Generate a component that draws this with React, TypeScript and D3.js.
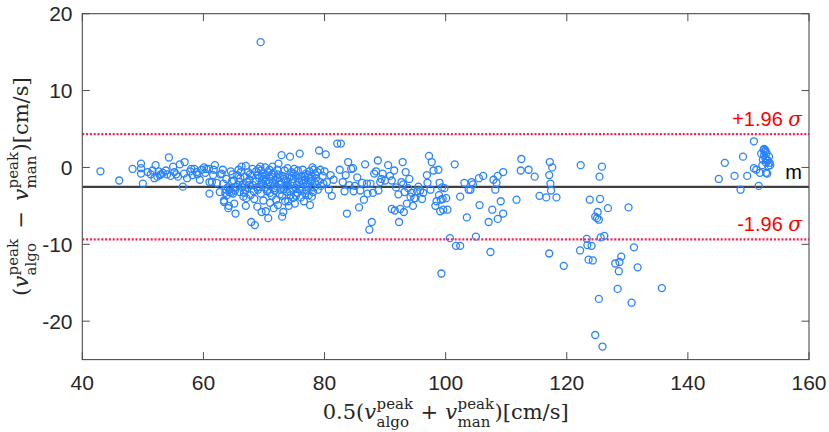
import React from 'react';
import * as d3 from 'd3';

// ---- data ----
const xTicks = [40, 60, 80, 100, 120, 140, 160];
const yTicks = [-20, -10, 0, 10, 20];
const meanDiff = -2.52;
const sdDiff = 3.49;

const outlierPoints: number[][] = [[69.45, 16.3]];

const leftPoints: number[][] = [
  [43.0, -0.5], [46.1, -1.7], [48.3, -0.2], [49.7, 0.5], [49.7, -0.1], [49.7, -0.8], [50.0, -2.1],
  [50.8, -0.6], [51.3, -0.9], [51.6, -0.4], [52.1, 0.3], [52.4, -1.2], [52.8, -1.0], [53.3, -0.7],
  [53.8, -0.4], [54.3, 1.3], [54.6, -1.1], [55.0, 0.1], [55.2, -0.6], [55.5, -0.9], [56.1, 0.4],
  [56.6, -2.5], [56.9, 0.7], [56.8, -0.8], [57.3, -1.4], [58.0, -0.2], [58.5, -0.2], [58.9, -0.6],
  [59.4, -1.6], [59.7, -0.3], [60.1, 0.0], [60.5, -0.2], [60.9, -0.2], [61.0, -1.9], [61.0, -3.4],
  [61.4, -1.9], [61.7, -0.3], [61.9, 0.3], [62.2, -2.0], [59.0, -0.9], [57.8, -0.5], [53.0, -0.9],
  [51.9, -1.4], [52.6, -0.5], [54.0, -0.9], [55.8, -1.2], [58.2, -1.0], [60.3, -0.7], [61.6, -1.0],
];

const densePoints: number[][] = [
  [62.7, -3.2], [62.8, -0.9], [63.0, -0.8], [63.3, -2.1], [63.4, -4.5], [63.4, -4.3], [63.6, -3.3],
  [63.8, -1.5], [64.0, -2.6], [64.1, -5.3], [64.2, -5.0], [64.3, -3.2], [64.5, -0.5], [64.6, -3.3],
  [64.7, -1.8], [64.9, -3.4], [65.1, -4.7], [65.3, -6.0], [65.4, -2.5], [65.6, -1.0], [65.8, -0.3],
  [66.0, -3.2], [66.1, -1.4], [66.3, 0.1], [66.5, -2.2], [66.6, -3.8], [66.8, -1.2], [67.0, 0.2],
  [67.1, -4.0], [67.3, -2.7], [67.4, -0.6], [67.6, -1.6], [67.8, -3.6], [67.9, -7.1], [68.0, -1.1],
  [68.1, -0.2], [68.2, -2.3], [68.4, -4.1], [68.5, -7.5], [68.6, -1.8], [68.7, -0.5], [68.9, -5.1],
  [69.0, -2.9], [69.1, -0.2], [69.2, -1.4], [69.4, 0.1], [69.5, -3.4], [69.6, -2.0], [69.8, -0.8],
  [69.9, -4.3], [70.0, -1.5], [70.1, -2.6], [70.2, 0.0], [70.3, -5.7], [70.4, -1.0], [70.5, -3.1],
  [70.7, -6.6], [70.8, -1.9], [70.9, -0.3], [71.0, -4.6], [71.1, -2.4], [71.2, -1.2], [71.3, -3.7],
  [71.4, 0.1], [71.5, -2.0], [71.6, -0.7], [71.8, -3.0], [71.9, -1.6], [72.0, -4.2], [72.1, -2.5],
  [72.3, -0.9], [72.4, 0.5], [72.5, -1.8], [72.6, -3.5], [72.8, -2.2], [72.9, 1.6], [73.0, -6.4],
  [73.1, -1.1], [73.2, -5.8], [73.3, -2.8], [73.4, -0.4], [73.5, -4.4], [73.6, -1.7], [73.8, -3.2],
  [73.9, -0.1], [74.0, -2.4], [74.1, -5.0], [74.2, -1.3], [74.3, 1.4], [74.4, -3.6], [74.5, -0.6],
  [74.6, -2.0], [74.8, -4.0], [74.9, -1.5], [75.0, -0.2], [75.1, -4.7], [75.2, -2.7], [75.3, -1.0],
  [75.5, -3.3], [75.6, -0.4], [75.8, -1.9], [75.9, 1.8], [76.0, -2.5], [76.1, -3.9], [76.2, -1.2],
  [76.4, -0.3], [76.5, -2.1], [76.6, -4.4], [76.8, -1.6], [76.9, -0.8], [77.0, -3.0], [77.1, -2.2],
  [77.3, -1.0], [77.4, -3.6], [77.5, -0.5], [77.6, -4.9], [77.7, -1.8], [77.8, -2.6], [77.9, -1.2],
  [78.0, 0.0], [78.1, -3.2], [78.2, -0.3], [78.4, -2.0], [78.6, -1.4], [78.8, -0.6], [79.0, -1.8],
  [79.1, 2.2], [79.4, -2.4], [79.7, -1.1], [80.0, -0.5], [80.2, 1.7], [80.4, -1.9], [80.7, -2.9],
  [81.0, -1.0], [81.2, -3.7], [81.5, -1.6], [65.0, -1.7], [66.9, -2.9], [68.3, -3.1], [69.3, -2.5],
  [70.6, -2.9], [71.7, -2.7], [72.7, -2.9], [73.7, -2.3], [74.7, -2.9], [75.4, -2.3], [76.3, -2.9],
  [77.2, -2.5], [78.3, -2.6], [69.7, -1.1], [70.9, -1.3], [72.2, -1.4], [73.3, -1.5], [74.6, -1.1],
  [75.7, -1.4], [76.7, -1.1], [77.8, -1.5], [67.2, -1.9], [66.4, -2.6], [65.7, -2.3], [64.4, -2.8],
  [63.9, -3.6], [63.2, -0.3], [63.7, -2.9], [64.8, -0.9], [65.2, -3.0], [65.9, -1.9], [66.2, -0.6],
  [66.7, -3.3], [67.5, -2.3], [67.7, -0.9], [68.8, -2.6], [69.0, -1.0], [69.5, -0.4], [69.9, -2.2],
  [70.3, -1.8], [70.7, -0.6], [71.0, -3.3], [71.3, -0.9], [71.8, -2.2], [72.2, -0.3], [72.6, -1.3],
  [73.0, -3.7], [73.5, -2.6], [73.9, -1.9], [74.3, -3.1], [74.9, -0.8], [75.3, -3.7], [75.9, -2.8],
  [76.3, -1.7], [76.8, -3.4], [77.4, -1.3], [77.9, -3.8], [78.5, -0.9], [78.9, -2.9], [79.3, -0.3],
  [79.8, -2.1], [67.0, -5.0], [69.6, -5.8], [71.6, -5.3], [74.0, -4.4], [72.3, -4.9],
];

const midPoints: number[][] = [
  [82.1, 3.1], [82.7, 3.1], [82.5, -0.3], [83.0, -1.9], [83.5, -1.0], [83.7, -6.0], [83.9, 0.7],
  [84.1, -2.3], [84.4, -0.2], [84.7, -0.1], [85.0, -2.4], [85.4, -1.3], [85.7, -5.2], [86.2, -2.0],
  [86.7, 0.4], [87.0, -2.1], [87.1, -3.4], [87.4, -8.1], [87.6, -2.1], [87.8, -7.1], [88.0, -3.3],
  [88.2, -0.8], [88.5, -0.5], [88.8, 0.9], [88.9, -3.0], [89.2, -1.9], [89.4, -1.5], [89.6, -0.8],
  [90.0, -1.7], [90.5, 0.3], [90.8, -1.1], [91.1, -1.7], [91.5, -0.4], [92.2, -3.5], [92.5, -5.4],
  [92.9, 0.7], [93.0, -2.2], [93.2, -3.2], [93.4, -0.6], [93.6, -4.7], [93.8, -2.7], [94.0, -1.5],
  [94.2, -3.8], [94.4, -3.3], [94.6, -5.0], [94.8, -4.0], [92.7, -1.9], [91.8, -2.6], [85.9, -3.0],
  [84.8, -3.1], [83.3, -3.1], [86.5, -4.2], [91.1, -5.4], [91.6, -5.6], [92.3, -7.1], [93.1, -5.8],
];

const highPoints: number[][] = [
  [95.0, -4.0], [95.3, -3.1], [95.5, -2.5], [95.8, -3.0], [96.1, -4.1], [96.3, -3.3], [96.9, -1.0],
  [97.0, -2.0], [97.25, 1.5], [97.5, -2.9], [97.7, 0.7], [98.0, -0.4], [98.3, -5.0], [98.5, -4.4],
  [98.8, -0.3], [98.9, -3.6], [99.0, -2.0], [99.1, -5.7], [99.2, -4.2], [99.3, -13.8], [99.4, -2.6],
  [99.5, -4.1], [99.6, -5.5], [99.8, -2.7], [100.1, -4.0], [100.3, -5.5], [100.7, -9.2], [101.5, 0.4],
  [101.7, -10.2], [102.4, -10.2], [102.4, -3.8], [103.1, -2.0], [103.5, -6.5], [103.8, -2.9],
  [104.1, -2.9], [104.3, -1.9], [104.5, -2.2], [105.0, -9.0], [105.5, -1.4], [105.6, -4.9],
  [106.2, -1.1], [107.1, -7.1], [107.4, -11.0], [107.7, -5.5], [107.9, -1.6], [108.2, -2.9],
  [108.4, -2.0], [108.6, -1.1], [108.6, -6.7], [109.1, -4.4], [109.5, -0.6], [109.5, -6.0],
  [111.7, -4.2], [112.5, 1.1], [112.4, -0.4], [113.7, -0.3], [114.7, -1.2], [115.5, -3.7],
  [116.6, -3.9], [117.2, 0.7], [117.6, 0.0], [117.1, -1.0], [117.3, -2.1], [117.4, -3.0],
  [118.3, -3.9], [117.1, -11.2], [119.5, -12.8], [122.2, -10.8], [122.3, 0.3], [123.3, -9.3],
  [123.4, -10.1], [124.1, -10.2], [123.6, -12.0], [124.3, -12.1], [123.8, -4.2], [124.7, -6.4],
  [125.1, -5.8], [125.0, -6.6], [125.3, -6.8], [125.3, -17.1], [124.7, -21.8], [125.9, -23.3],
  [125.4, -1.2], [125.8, 0.1], [125.5, -4.1], [125.6, -9.1], [126.2, -8.9], [126.8, -5.3],
  [128.0, -12.5], [128.4, -15.8], [128.7, -12.3], [128.6, -13.5], [129.0, -11.6], [130.2, -5.2],
  [130.7, -17.6], [131.1, -10.4], [131.7, -13.0], [135.7, -15.7],
];

const rightPoints: number[][] = [
  [145.1, -1.5], [146.1, 0.6], [147.7, -1.1], [148.7, -2.9], [149.1, 1.4], [149.8, -1.1],
  [150.9, 3.4], [150.9, -0.1], [151.3, -0.3], [151.7, -2.4], [151.9, -0.7], [152.1, 1.8],
  [152.3, 0.3], [152.4, 1.0], [152.5, 2.3], [152.6, 1.6], [152.7, 2.0], [152.8, 1.2], [152.9, 0.6],
  [152.9, -0.7], [153.0, 1.9], [153.1, -0.8], [153.2, 0.9], [153.3, 0.2], [153.4, 1.4], [153.5, 0.6],
  [153.6, 0.3], [152.6, 2.4], [152.8, 2.2], [153.0, 1.0],
];

// ---- math label helper ----
type Tok = { t?: string; it?: boolean; sup?: string; sub?: string; gap?: number };
const SERIF = 'DejaVu Serif';
const MAIN = 21;
const SCRIPT = 15;

let ctx: CanvasRenderingContext2D | null = null;
function measure(text: string, size: number, italic: boolean) {
  if (!ctx) ctx = document.createElement('canvas').getContext('2d');
  if (!ctx) return text.length * size * 0.55;
  ctx.font = `${italic ? 'italic ' : ''}${size}px "${SERIF}"`;
  return ctx.measureText(text).width;
}

function MathLabel({ tokens, cx, cy, rotate }: { tokens: Tok[]; cx: number; cy: number; rotate: number }) {
  const items: React.ReactNode[] = [];
  const widths = tokens.map((tk) => {
    if (tk.gap !== undefined) return tk.gap;
    if (tk.t !== undefined) return measure(tk.t, MAIN, !!tk.it);
    return Math.max(measure(tk.sup || '', SCRIPT, false), measure(tk.sub || '', SCRIPT, false)) + 1;
  });
  const total = d3.sum(widths);
  let pos = -total / 2;
  tokens.forEach((tk, i) => {
    if (tk.gap !== undefined) {
      // spacing only
    } else if (tk.t !== undefined) {
      items.push(
        <text key={i} x={pos} y={0} fontFamily={SERIF} fontSize={MAIN} fontStyle={tk.it ? 'italic' : 'normal'} fill="#262626" style={{ whiteSpace: 'pre' }}>
          {tk.t}
        </text>
      );
    } else {
      items.push(
        <text key={i + 's'} x={pos + 0.5} y={-10.5} fontFamily={SERIF} fontSize={SCRIPT} fill="#262626">
          {tk.sup}
        </text>
      );
      items.push(
        <text key={i + 'b'} x={pos + 0.5} y={7.5} fontFamily={SERIF} fontSize={SCRIPT} fill="#262626">
          {tk.sub}
        </text>
      );
    }
    pos += widths[i];
  });
  return <g transform={`translate(${cx},${cy}) rotate(${rotate})`}>{items}</g>;
}

const xLabelTokens: Tok[] = [
  { t: '0.5(' }, { t: 'v', it: true }, { sup: 'peak', sub: 'algo' }, { gap: 7 }, { t: '+' }, { gap: 7 },
  { t: 'v', it: true }, { sup: 'peak', sub: 'man' }, { t: ')[cm/s]' },
];
const yLabelTokens: Tok[] = [
  { t: '(' }, { t: 'v', it: true }, { sup: 'peak', sub: 'algo' }, { gap: 10 }, { t: '\u2212' }, { gap: 10 },
  { t: 'v', it: true }, { sup: 'peak', sub: 'man' }, { t: ')[cm/s]' },
];

export default function App() {
  const W = 829;
  const H = 432;
  const left = 82.3, right = 809, top = 13.7, bottom = 359.6;
  const x = d3.scaleLinear().domain([40, 160]).range([left, right]);
  const y = d3.scaleLinear().domain([-25, 20]).range([bottom, top]);
  const axisColor = '#4d4d4d';
  const tickColor = '#262626';
  const dotColor = '#2a82ff';
  const redLine = '#ff1a4a';
  const tickLen = 7.5;
  const allPoints = [...leftPoints, ...densePoints, ...midPoints, ...highPoints, ...rightPoints, ...outlierPoints];
  const upper = meanDiff + 1.96 * sdDiff;
  const lower = meanDiff - 1.96 * sdDiff;
  const SANS = 'Liberation Sans, Arial, sans-serif';

  return (
    <svg width={W} height={H} style={{ position: 'fixed', left: 0, top: 0, background: '#fff' }}>
      <rect x={0} y={0} width={W} height={H} fill="#fff" />
      {/* limit lines */}
      <line x1={left} x2={right} y1={y(upper)} y2={y(upper)} stroke={redLine} strokeWidth={2.3} strokeDasharray="2,1.8" />
      <line x1={left} x2={right} y1={y(lower)} y2={y(lower)} stroke={redLine} strokeWidth={2.3} strokeDasharray="2,1.8" />
      <line x1={left} x2={right} y1={y(meanDiff)} y2={y(meanDiff)} stroke="#404040" strokeWidth={2.3} />
      {/* points */}
      <g fill="none" stroke={dotColor} strokeWidth={1.3}>
        {allPoints.map((p, i) => (
          <circle key={i} cx={x(p[0])} cy={y(p[1])} r={3.5} />
        ))}
      </g>
      {/* box */}
      <rect x={left} y={top} width={right - left} height={bottom - top} fill="none" stroke={axisColor} strokeWidth={1.1} />
      {xTicks.map((t) => (
        <g key={'x' + t}>
          <line x1={x(t)} x2={x(t)} y1={bottom} y2={bottom - tickLen} stroke={axisColor} strokeWidth={1} />
          <line x1={x(t)} x2={x(t)} y1={top} y2={top + tickLen} stroke={axisColor} strokeWidth={1} />
          <text x={x(t)} y={390} textAnchor="middle" fontFamily={SANS} fontSize={21} fill={tickColor}>
            {t}
          </text>
        </g>
      ))}
      {yTicks.map((t) => (
        <g key={'y' + t}>
          <line x1={left} x2={left + tickLen} y1={y(t)} y2={y(t)} stroke={axisColor} strokeWidth={1} />
          <line x1={right} x2={right - tickLen} y1={y(t)} y2={y(t)} stroke={axisColor} strokeWidth={1} />
          <text x={72.5} y={y(t) + 7.5} textAnchor="end" fontFamily={SANS} fontSize={21} fill={tickColor}>
            {t}
          </text>
        </g>
      ))}
      {/* annotations */}
      <text x={802} y={126} textAnchor="end" fontFamily={SANS} fontSize={20} fill="#ff0000">
        +1.96 <tspan fontFamily={SERIF} fontStyle="italic">σ</tspan>
      </text>
      <text x={802} y={231} textAnchor="end" fontFamily={SANS} fontSize={20} fill="#ff0000">
        -1.96 <tspan fontFamily={SERIF} fontStyle="italic">σ</tspan>
      </text>
      <text x={802} y={179} textAnchor="end" fontFamily={SANS} fontSize={20} fill="#000">
        m
      </text>
      {/* axis labels */}
      <MathLabel tokens={xLabelTokens} cx={(left + right) / 2} cy={419} rotate={0} />
      <MathLabel tokens={yLabelTokens} cx={28} cy={(top + bottom) / 2} rotate={-90} />
    </svg>
  );
}
